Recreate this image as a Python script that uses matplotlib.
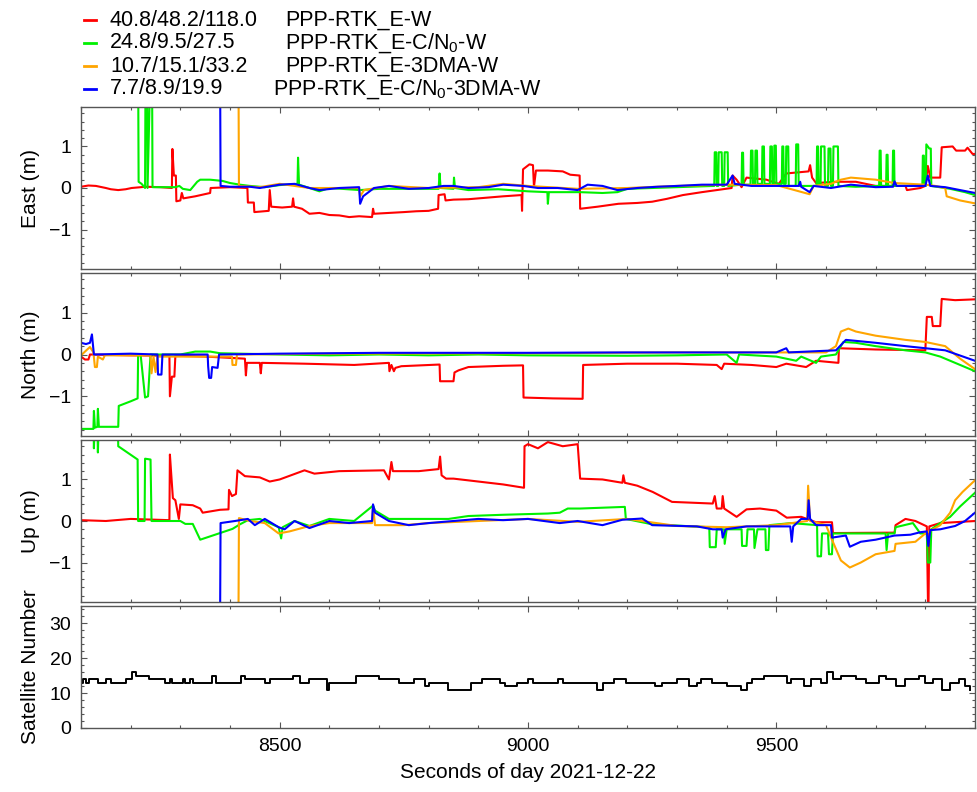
#!/usr/bin/env python3

import matplotlib
matplotlib.use('Agg')
import matplotlib.pyplot as plt
import matplotlib.ticker as ticker
from matplotlib.lines import Line2D

plt.rcParams['font.family'] = ['Liberation Sans', 'DejaVu Sans']
plt.rcParams['mathtext.fontset'] = 'custom'
plt.rcParams['mathtext.rm'] = 'Liberation Sans'

#
# Legend entries: statistics (E/N/U, cm) and solution names
#
stats = ['40.8/48.2/118.0', '24.8/9.5/27.5', '10.7/15.1/33.2', '7.7/8.9/19.9']
names = ['PPP-RTK_E-W', r'PPP-RTK_E-C/N$_\mathregular{0}$-W',
         'PPP-RTK_E-3DMA-W', r'PPP-RTK_E-C/N$_\mathregular{0}$-3DMA-W']
colors = ['#ff0000', '#00f000', '#ffa500', '#0000ff']

#
# East (m): (seconds of day, value)
#
east_red = [
    (8100, 0.03), (8115, 0.06), (8130, 0.05), (8150, 0.0), (8160, -0.03), (8175, -0.05),
    (8190, -0.03), (8202, 0.0), (8230, 0.03), (8260, 0.02), (8283, 0.0), (8284, 0.94),
    (8287, 0.3), (8291, 0.3), (8292, -0.32), (8300, -0.3), (8303, -0.12), (8306, -0.25),
    (8330, -0.2), (8360, -0.12), (8361, 0.0), (8400, 0.02), (8435, 0.0), (8436, -0.35),
    (8448, -0.35), (8449, -0.58), (8478, -0.55), (8480, -0.05), (8483, -0.45), (8505, -0.47),
    (8525, -0.45), (8527, -0.25), (8529, -0.45), (8545, -0.5), (8560, -0.62), (8580, -0.6),
    (8600, -0.65), (8620, -0.66), (8640, -0.7), (8660, -0.68), (8686, -0.7), (8688, -0.5),
    (8690, -0.62), (8720, -0.6), (8750, -0.58), (8775, -0.56), (8800, -0.55), (8819, -0.5),
    (8820, -0.17), (8832, -0.15), (8834, -0.3), (8850, -0.28), (8880, -0.27), (8900, -0.25),
    (8950, -0.2), (8987, -0.17), (8988, -0.55), (8990, 0.45), (9003, 0.57), (9010, 0.55),
    (9012, 0.03), (9016, 0.42), (9040, 0.42), (9070, 0.4), (9085, 0.32), (9104, 0.3),
    (9105, -0.5), (9140, -0.45), (9182, -0.38), (9220, -0.36), (9250, -0.33), (9280, -0.26),
    (9312, -0.17), (9350, -0.1), (9380, -0.05), (9410, 0.0), (9412, 0.3), (9420, 0.2),
    (9430, 0.02), (9440, 0.25), (9480, 0.2), (9505, 0.1), (9520, 0.35), (9565, 0.4),
    (9568, 0.55), (9572, 0.25), (9580, 0.12), (9620, 0.15), (9660, 0.15), (9700, 0.05),
    (9760, 0.05), (9763, -0.05), (9790, 0.0), (9800, 0.05), (9805, 0.53), (9810, 0.25),
    (9830, 0.25), (9833, 0.98), (9855, 1.0), (9862, 0.9), (9880, 0.9), (9885, 0.97),
    (9895, 0.82), (9900, 0.82),
]
east_green = [
    (8100, 3.0), (8215, 3.0), (8216, 0.15), (8222, 0.1), (8229, 0.0), (8230, 3.0),
    (8233, 3.0), (8234, 0.0), (8240, 3.0), (8243, 3.0), (8244, 0.02), (8290, 0.02),
    (8298, 0.05), (8305, -0.02), (8320, -0.05), (8334, 0.15), (8340, 0.2), (8360, 0.2),
    (8385, 0.17), (8400, 0.12), (8420, 0.08), (8440, 0.05), (8470, 0.02), (8500, 0.07),
    (8536, 0.1), (8537, 0.73), (8539, 0.08), (8560, 0.0), (8580, -0.08), (8600, 0.0),
    (8662, -0.05), (8700, -0.02), (8760, -0.02), (8820, -0.02), (8822, 0.35), (8824, 0.0),
    (8850, -0.02), (8851, 0.25), (8853, 0.0), (8880, -0.05), (8940, -0.03), (9000, -0.08),
    (9039, -0.1), (9040, -0.38), (9042, -0.1), (9105, -0.1), (9150, -0.12), (9180, -0.1),
    (9200, -0.02), (9300, 0.02), (9370, 0.05), (9375, 0.05), (9376, 0.86), (9379, 0.86),
    (9380, 0.05), (9383, 0.05), (9384, 0.86), (9390, 0.86), (9391, 0.05), (9395, 0.05),
    (9396, 0.86), (9402, 0.86), (9403, 0.05), (9430, 0.08), (9431, 0.85), (9433, 0.85),
    (9434, 0.08), (9448, 0.08), (9449, 0.9), (9452, 0.9), (9453, 0.1), (9457, 0.1),
    (9458, 0.9), (9461, 0.9), (9462, 0.1), (9471, 0.1), (9472, 1.0), (9475, 1.0),
    (9476, 0.1), (9487, 0.1), (9488, 1.0), (9491, 1.0), (9492, 0.1), (9495, 0.1),
    (9496, 1.02), (9499, 1.02), (9500, 0.1), (9511, 0.1), (9512, 1.0), (9514, 1.0),
    (9515, 0.1), (9519, 0.1), (9520, 1.0), (9524, 1.0), (9525, 0.05), (9539, 0.05),
    (9540, 1.05), (9544, 1.05), (9545, 0.05), (9581, 0.05), (9582, 1.0), (9584, 1.0),
    (9585, 0.05), (9589, 0.05), (9590, 1.0), (9597, 1.0), (9598, 0.05), (9604, 0.05),
    (9605, 0.95), (9609, 0.95), (9610, 0.05), (9614, 0.05), (9615, 1.0), (9624, 1.0),
    (9625, 0.05), (9660, 0.03), (9707, 0.05), (9708, 0.9), (9710, 0.9), (9711, 0.05),
    (9721, 0.05), (9722, 0.8), (9724, 0.8), (9725, 0.05), (9734, 0.05), (9735, 0.9),
    (9737, 0.9), (9738, 0.05), (9794, 0.05), (9795, 0.78), (9797, 0.78), (9798, 0.05),
    (9801, 0.05), (9802, 1.05), (9808, 0.95), (9811, 0.95), (9812, 0.05), (9850, -0.02),
    (9880, -0.1), (9900, -0.17),
]
east_orange = [
    (8100, 3.0), (8417, 3.0), (8418, 0.05), (8460, 0.02), (8500, 0.1), (8560, 0.0),
    (8660, 0.0), (8662, -0.2), (8670, -0.05), (8720, 0.05), (8800, 0.0), (8900, 0.02),
    (8950, 0.1), (9000, 0.05), (9100, -0.02), (9200, 0.0), (9300, 0.05), (9400, 0.08),
    (9500, 0.07), (9567, -0.15), (9575, 0.05), (9610, 0.1), (9630, 0.2), (9650, 0.25),
    (9700, 0.2), (9738, 0.12), (9800, 0.08), (9820, 0.05), (9840, 0.0), (9843, -0.2),
    (9870, -0.3), (9900, -0.37),
]
east_blue = [
    (8100, 3.0), (8380, 3.0), (8381, 0.05), (8400, 0.03), (8440, 0.03), (8460, 0.0),
    (8500, 0.08), (8530, 0.1), (8560, 0.0), (8580, -0.05), (8620, 0.0), (8660, 0.02),
    (8662, -0.38), (8668, -0.2), (8690, 0.0), (8720, 0.05), (8760, -0.02), (8800, 0.0),
    (8830, 0.05), (8850, 0.05), (8880, 0.0), (8920, 0.02), (8950, 0.08), (8990, 0.05),
    (9020, 0.0), (9060, 0.0), (9100, -0.05), (9120, 0.08), (9150, 0.05), (9180, -0.05),
    (9220, 0.0), (9260, 0.03), (9300, 0.05), (9350, 0.08), (9400, 0.08), (9412, 0.3),
    (9416, 0.1), (9450, 0.05), (9545, 0.05), (9548, 0.15), (9550, 0.03), (9567, -0.1),
    (9575, 0.05), (9610, 0.0), (9650, 0.08), (9700, 0.02), (9735, 0.03), (9738, 0.16),
    (9742, 0.05), (9800, 0.05), (9805, 0.3), (9810, 0.05), (9840, 0.02), (9870, -0.05),
    (9900, -0.12),
]

#
# North (m)
#
north_red = [
    (8100, -0.05), (8108, -0.12), (8115, -0.12), (8118, 0.0), (8200, -0.02), (8278, -0.03),
    (8279, -1.0), (8283, -0.53), (8288, -0.53), (8290, -0.03), (8350, -0.05), (8400, -0.08),
    (8430, -0.1), (8432, -0.5), (8434, -0.2), (8460, -0.2), (8462, -0.45), (8464, -0.2),
    (8550, -0.22), (8650, -0.25), (8720, -0.2), (8721, -0.4), (8725, -0.25), (8730, -0.4),
    (8733, -0.32), (8745, -0.28), (8822, -0.24), (8823, -0.64), (8850, -0.64), (8852, -0.43),
    (8860, -0.38), (8880, -0.3), (8950, -0.27), (8990, -0.26), (8991, -1.03), (9050, -1.05),
    (9110, -1.06), (9111, -0.25), (9200, -0.22), (9300, -0.22), (9380, -0.25), (9390, -0.35),
    (9395, -0.22), (9450, -0.25), (9500, -0.3), (9520, -0.22), (9560, -0.3), (9580, -0.15),
    (9625, -0.2), (9626, 0.15), (9700, 0.12), (9800, 0.1), (9803, 0.9), (9813, 0.9),
    (9815, 0.68), (9830, 0.68), (9833, 1.33), (9860, 1.3), (9900, 1.32),
]
north_green = [
    (8100, -1.78), (8125, -1.78), (8126, -1.35), (8128, -1.75), (8133, -1.73), (8134, -1.3),
    (8136, -1.73), (8175, -1.73), (8176, -1.23), (8200, -1.12), (8214, -1.05), (8215, 0.0),
    (8220, 0.0), (8229, -1.03), (8235, -1.0), (8240, 0.0), (8300, 0.0), (8330, 0.07),
    (8360, 0.07), (8380, 0.03), (8500, 0.0), (8600, -0.02), (8700, 0.0), (8800, -0.02),
    (8900, 0.0), (9000, -0.02), (9200, -0.03), (9300, -0.02), (9400, 0.0), (9420, -0.2),
    (9425, 0.0), (9500, -0.05), (9540, -0.15), (9550, -0.05), (9580, -0.2), (9590, -0.05),
    (9620, 0.0), (9635, 0.3), (9660, 0.28), (9700, 0.2), (9760, 0.1), (9800, 0.05),
    (9830, -0.05), (9860, -0.2), (9900, -0.4),
]
north_orange = [
    (8100, -0.02), (8118, 0.18), (8125, 0.05), (8128, -0.3), (8132, -0.3), (8134, -0.05),
    (8144, -0.12), (8148, -0.02), (8240, -0.02), (8242, -0.45), (8246, -0.05), (8250, -0.42),
    (8254, -0.05), (8404, -0.05), (8405, -0.25), (8412, -0.25), (8414, 0.0), (8600, 0.02),
    (9000, 0.03), (9300, 0.05), (9600, 0.05), (9620, 0.2), (9630, 0.55), (9645, 0.62),
    (9660, 0.55), (9700, 0.45), (9760, 0.35), (9800, 0.3), (9840, 0.2), (9870, -0.1),
    (9900, -0.35),
]
north_blue = [
    (8100, 0.28), (8110, 0.25), (8118, 0.28), (8122, 0.48), (8126, 0.0), (8200, 0.02),
    (8254, 0.0), (8255, -0.48), (8262, -0.48), (8264, 0.0), (8355, 0.0), (8356, -0.28),
    (8358, -0.56), (8362, -0.56), (8364, -0.3), (8375, -0.32), (8378, 0.0), (8500, 0.02),
    (8700, 0.04), (9000, 0.04), (9200, 0.05), (9500, 0.05), (9520, 0.15), (9525, 0.05),
    (9620, 0.1), (9640, 0.35), (9700, 0.28), (9760, 0.2), (9800, 0.15), (9840, 0.1),
    (9900, -0.15),
]

#
# Up (m)
#
up_red = [
    (8100, 0.02), (8150, 0.0), (8200, 0.05), (8278, 0.02), (8279, 1.6), (8282, 1.07),
    (8285, 0.55), (8290, 0.5), (8297, 0.05), (8300, 0.4), (8325, 0.38), (8340, 0.3),
    (8345, 0.2), (8380, 0.27), (8397, 0.28), (8398, 0.75), (8404, 0.6), (8412, 0.65),
    (8415, 1.22), (8430, 1.08), (8460, 1.05), (8480, 0.95), (8500, 1.0), (8550, 1.22),
    (8570, 1.14), (8620, 1.2), (8710, 1.22), (8720, 1.0), (8725, 1.42), (8728, 1.2),
    (8780, 1.2), (8820, 1.25), (8823, 1.55), (8826, 1.1), (8835, 1.02), (8850, 1.02),
    (8900, 0.95), (8950, 0.88), (8992, 0.8), (8993, 1.8), (9000, 1.85), (9020, 1.75),
    (9040, 1.9), (9070, 1.8), (9100, 1.85), (9105, 1.02), (9150, 1.0), (9190, 0.92),
    (9192, 1.1), (9195, 0.92), (9220, 0.85), (9251, 0.7), (9290, 0.46), (9372, 0.42),
    (9376, 0.6), (9380, 0.3), (9390, 0.3), (9392, 0.6), (9395, 0.3), (9420, 0.1),
    (9440, 0.28), (9467, 0.3), (9500, 0.25), (9521, 0.08), (9550, 0.1), (9580, -0.03),
    (9612, -0.03), (9614, -0.29), (9738, -0.28), (9740, -0.1), (9760, 0.05), (9780, 0.0),
    (9803, -0.13), (9806, -2.5), (9808, -0.13), (9830, -0.05), (9900, 0.0),
]
up_green = [
    (8100, 2.5), (8125, 2.5), (8126, 1.75), (8128, 2.5), (8133, 2.5), (8134, 1.65),
    (8136, 2.5), (8174, 2.5), (8175, 1.8), (8214, 1.48), (8215, 0.0), (8228, 0.0),
    (8229, 1.5), (8240, 1.48), (8242, 0.0), (8300, 0.0), (8310, -0.07), (8325, -0.07),
    (8340, -0.45), (8370, -0.33), (8405, -0.19), (8420, -0.08), (8436, 0.02), (8460, 0.05),
    (8498, -0.15), (8503, -0.42), (8506, -0.15), (8530, 0.0), (8560, -0.12), (8600, 0.05),
    (8650, 0.0), (8688, 0.37), (8692, 0.25), (8720, 0.05), (8840, 0.05), (8880, 0.12),
    (8950, 0.15), (9040, 0.18), (9064, 0.2), (9080, 0.3), (9105, 0.3), (9150, 0.32),
    (9195, 0.34), (9197, 0.05), (9250, -0.08), (9365, -0.15), (9366, -0.63), (9378, -0.63),
    (9380, -0.2), (9395, -0.2), (9396, -0.55), (9400, -0.2), (9430, -0.2), (9431, -0.6),
    (9440, -0.6), (9442, -0.2), (9455, -0.2), (9456, -0.65), (9462, -0.2), (9478, -0.2),
    (9479, -0.7), (9484, -0.7), (9486, -0.1), (9530, -0.05), (9582, -0.1), (9583, -0.85),
    (9590, -0.85), (9592, -0.3), (9604, -0.3), (9606, -0.8), (9612, -0.8), (9614, -0.3),
    (9720, -0.3), (9722, -0.7), (9725, -0.3), (9738, -0.3), (9740, -0.15), (9775, -0.05),
    (9790, -0.3), (9803, -0.3), (9805, -1.0), (9810, -1.0), (9812, -0.2), (9830, -0.05),
    (9850, 0.1), (9870, 0.35), (9900, 0.68),
]
up_orange = [
    (8100, -2.5), (8417, -2.5), (8418, 0.07), (8440, 0.0), (8470, -0.05), (8498, -0.3),
    (8520, -0.25), (8560, -0.12), (8600, -0.05), (8686, -0.05), (8688, 0.35), (8692, -0.1),
    (8750, -0.1), (8800, -0.05), (8900, 0.0), (9000, 0.05), (9100, -0.02), (9200, 0.05),
    (9300, -0.12), (9400, -0.15), (9500, -0.1), (9562, 0.0), (9564, 0.85), (9568, 0.0),
    (9600, -0.1), (9612, -0.45), (9630, -0.95), (9648, -1.12), (9670, -1.0), (9700, -0.8),
    (9738, -0.72), (9740, -0.55), (9780, -0.5), (9800, -0.3), (9830, -0.1), (9850, 0.2),
    (9860, 0.5), (9875, 0.7), (9900, 0.98),
]
up_blue = [
    (8100, -2.5), (8380, -2.5), (8381, -0.05), (8410, 0.0), (8436, 0.05), (8450, -0.1),
    (8470, 0.05), (8498, -0.15), (8510, -0.2), (8530, 0.0), (8560, -0.17), (8600, 0.0),
    (8640, -0.05), (8686, 0.0), (8688, 0.4), (8692, 0.2), (8720, 0.0), (8760, -0.1),
    (8800, -0.05), (8850, 0.0), (8900, 0.05), (8950, 0.02), (9000, 0.05), (9064, -0.05),
    (9100, 0.0), (9150, -0.1), (9190, 0.03), (9230, 0.06), (9250, -0.1), (9340, -0.13),
    (9372, -0.2), (9390, -0.2), (9392, -0.4), (9398, -0.2), (9440, -0.13), (9528, -0.13),
    (9531, -0.5), (9534, -0.13), (9550, 0.05), (9563, 0.05), (9565, 0.5), (9568, 0.05),
    (9580, -0.1), (9610, -0.1), (9612, -0.4), (9640, -0.35), (9648, -0.62), (9670, -0.5),
    (9700, -0.45), (9738, -0.35), (9770, -0.33), (9790, -0.27), (9803, -0.25), (9806, -0.6),
    (9810, -0.22), (9830, -0.2), (9860, -0.12), (9880, 0.0), (9900, 0.2),
]

#
# Number of satellites (step changes)
#
sat_t = [8100, 8105, 8110, 8116, 8135, 8150, 8160, 8190, 8203, 8210, 8236, 8270, 8280,
         8284, 8305, 8310, 8320, 8325, 8364, 8372, 8422, 8430, 8470, 8480, 8526, 8540,
         8560, 8595, 8600, 8653, 8700, 8740, 8770, 8792, 8800, 8838, 8885, 8908, 8943,
         8954, 8977, 9000, 9010, 9060, 9070, 9128, 9139, 9150, 9174, 9197, 9255, 9270,
         9300, 9325, 9340, 9348, 9371, 9400, 9429, 9440, 9450, 9475, 9521, 9530, 9556,
         9570, 9590, 9602, 9615, 9630, 9660, 9680, 9706, 9720, 9741, 9760, 9787, 9800,
         9815, 9834, 9850, 9868, 9880, 9890]
sat_n = [13, 14, 13, 14, 13, 14, 13, 14, 16, 15, 14, 13, 14,
         13, 14, 13, 14, 13, 15, 13, 15, 14, 13, 14, 15, 13,
         14, 11, 13, 15, 14, 13, 14, 12, 13, 11, 13, 14, 13,
         12, 13, 14, 13, 14, 13, 13, 11, 13, 14, 13, 12, 13,
         14, 12, 13, 14, 13, 12, 11, 13, 14, 15, 13, 14, 12,
         14, 13, 16, 14, 15, 14, 13, 15, 14, 12, 14, 15, 13,
         14, 11, 13, 14, 12, 11]

panels = [
    ('East (m)', [east_red, east_green, east_orange, east_blue]),
    ('North (m)', [north_red, north_green, north_orange, north_blue]),
    ('Up (m)', [up_red, up_green, up_orange, up_blue]),
]


def style_axis(ax):
    for s in ax.spines.values():
        s.set_color('#555555')
        s.set_linewidth(1.0)
    ax.set_xlim(8100, 9900)
    ax.xaxis.set_major_locator(ticker.FixedLocator([8500, 9000, 9500]))
    ax.xaxis.set_minor_locator(ticker.MultipleLocator(100))
    ax.tick_params(which='both', direction='in', top=True, right=True,
                   color='#555555', labelsize=14, pad=7)
    ax.tick_params(which='major', length=4.5, width=0.8)
    ax.tick_params(which='minor', length=2.5, width=0.8)
    ax.yaxis.set_label_coords(-0.046, 0.5)


def main():
    fig = plt.figure(figsize=(9.77, 7.92), dpi=100)

    left, width = 81 / 977, 894 / 977
    rects = [(107, 269), (273, 436), (440, 602), (606, 728)]
    axes = []
    for (top, bot) in rects:
        ax = fig.add_axes([left, 1 - bot / 792, width, (bot - top) / 792])
        axes.append(ax)

    for ax, (label, series) in zip(axes[:3], panels):
        for data, c in zip(series, colors):
            t, v = zip(*data)
            ax.plot(t, v, '-', color=c, lw=1.5)
        ax.set_ylim(-1.95, 1.95)
        ax.set_yticks([-1, 0, 1])
        ax.set_yticklabels(['\u22121', '0', '1'])
        ax.yaxis.set_minor_locator(ticker.MultipleLocator(0.2))
        ax.set_ylabel(label, fontsize=15)
        style_axis(ax)
        ax.tick_params(axis='x', labelbottom=False)

    ax = axes[3]
    ax.step(sat_t, sat_n, where='post', color='black', lw=1.4)
    ax.set_ylim(0, 35)
    ax.set_yticks([0, 10, 20, 30])
    ax.yaxis.set_minor_locator(ticker.MultipleLocator(2))
    ax.set_ylabel('Satellite Number', fontsize=15)
    style_axis(ax)
    ax.set_xlabel('Seconds of day 2021-12-22', fontsize=15, labelpad=6)

    #
    # Legend drawn by hand at the top left
    #
    rows_y = [20, 43, 66, 89]
    name_x = [285, 285, 285, 273]
    for y, st, nm, c, nx in zip(rows_y, stats, names, colors, name_x):
        fy = 1 - y / 792
        fig.add_artist(Line2D([84 / 977, 96 / 977], [fy, fy], color=c, lw=2))
        fig.text(110 / 977, fy, st, fontsize=15.5, va='center')
        fig.text(nx / 977, fy, nm, fontsize=15.5, va='center')

    fig.savefig('out.png', dpi=100)


if __name__ == '__main__':
    main()
